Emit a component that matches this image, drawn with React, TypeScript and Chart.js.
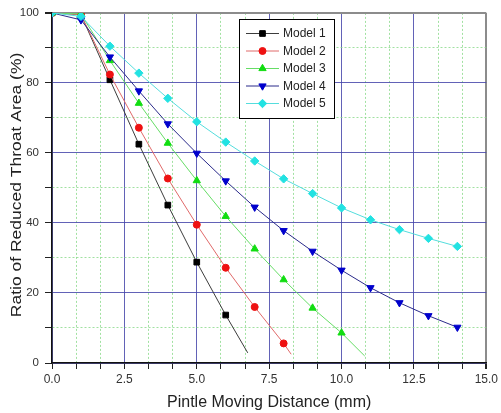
import React, { useEffect, useRef } from 'react';
import { Chart, registerables } from 'chart.js';
import { drawPoint } from 'chart.js/helpers';

Chart.register(...registerables);

// ---- data ----
const distance = [0, 1, 2, 3, 4, 5, 6, 7, 8, 9, 10, 11, 12, 13, 14];
const model1 = [100, 99.5, 80.9, 62.5, 45.1, 28.8, 13.7];
const model2 = [100, 99.5, 82.4, 67.2, 52.7, 39.5, 27.2, 16.0, 5.6];
const model3 = [100, 99.7, 86.4, 74.2, 62.8, 52.1, 41.9, 32.6, 23.8, 15.7, 8.6];
const model4 = [100, 98.0, 87.4, 77.7, 68.3, 59.9, 52.0, 44.5, 37.8, 31.9, 26.5, 21.5, 17.2, 13.5, 10.2];
const model5 = [100, 99.0, 90.5, 82.8, 75.6, 68.9, 63.1, 57.7, 52.6, 48.4, 44.3, 40.9, 38.1, 35.6, 33.3];
// where the fitted lines end (beyond the last measured point)
const model1LineEnd = [6.76, 2.9];
const model2LineEnd = [8.26, 2.5];
const model3LineEnd = [10.8, 2.0];

const seriesNames = ['Model 1', 'Model 2', 'Model 3', 'Model 4', 'Model 5'];
const xMajorTicks = [0, 2.5, 5, 7.5, 10, 12.5, 15];
const yMajorTicks = [0, 20, 40, 60, 80, 100];
const xTitle = 'Pintle Moving Distance (mm)';
const yTitle = 'Ratio of Reduced Throat Area (%)';

const FONT = "'Liberation Sans', Arial, Helvetica, sans-serif";

function buildMinor(major: number[], parts: number): number[] {
  const out: number[] = [];
  for (let i = 0; i < major.length; i++) {
    out.push(major[i]);
    if (i < major.length - 1) {
      for (let k = 1; k < parts; k++) out.push(major[i] + ((major[i + 1] - major[i]) * k) / parts);
    }
  }
  return out;
}
const xAllTicks = buildMinor(xMajorTicks, 3);
const yAllTicks = buildMinor(yMajorTicks, 2);

const isIn = (v: number, arr: number[]) => arr.some((a) => Math.abs(a - v) < 1e-6);

function makeData(vals: number[], end?: number[]) {
  const pts = vals.map((v, i) => ({ x: distance[i], y: v }));
  if (end) pts.push({ x: end[0], y: end[1] });
  return pts;
}

const styles = [
  { line: '#3c3c3c', fill: '#000000', pointStyle: 'rect', rotation: 0, radius: 4 },
  { line: '#e06a6a', fill: '#ee1111', pointStyle: 'circle', rotation: 0, radius: 3.5 },
  { line: '#66dd66', fill: '#11dd11', pointStyle: 'triangle', rotation: 0, radius: 4.2 },
  { line: '#2a2a8a', fill: '#0000cc', pointStyle: 'triangle', rotation: 180, radius: 4.2 },
  { line: '#55dddd', fill: '#22e2e2', pointStyle: 'rectRot', rotation: 0, radius: 4.2 },
];

const legendPlugin = {
  id: 'boxLegend',
  afterDatasetsDraw(chart: any) {
    const ctx = chart.ctx;
    ctx.save();
    ctx.fillStyle = '#ffffff';
    ctx.fillRect(239, 19, 95, 99);
    ctx.strokeStyle = '#000000';
    ctx.lineWidth = 1;
    ctx.strokeRect(239.5, 19.5, 95, 99);
    seriesNames.forEach((name, i) => {
      const s = styles[i];
      const y = 33.5 + i * 17.5;
      ctx.strokeStyle = s.line;
      ctx.lineWidth = 1;
      ctx.beginPath();
      ctx.moveTo(246, y);
      ctx.lineTo(279, y);
      ctx.stroke();
      ctx.fillStyle = s.fill;
      ctx.strokeStyle = s.fill;
      drawPoint(ctx, { pointStyle: s.pointStyle, rotation: s.rotation, radius: s.radius, borderWidth: 1 }, 262.5, y);
      ctx.fillStyle = '#222222';
      ctx.font = `12px ${FONT}`;
      ctx.textBaseline = 'middle';
      ctx.textAlign = 'left';
      ctx.fillText(name, 283, y + 0.5);
    });
    ctx.restore();
  },
};

const titlePlugin = {
  id: 'axisTitles',
  afterDraw(chart: any) {
    const ctx = chart.ctx;
    const area = chart.chartArea;
    ctx.save();
    ctx.fillStyle = '#222222';
    ctx.textAlign = 'center';
    ctx.textBaseline = 'middle';
    // x title
    ctx.save();
    ctx.translate((area.left + area.right) / 2, 402);
    ctx.scale(0.94, 1);
    ctx.font = `17px ${FONT}`;
    ctx.fillText(xTitle, 0, 0);
    ctx.restore();
    // y title
    ctx.save();
    ctx.translate(17, (area.top + area.bottom) / 2 - 3);
    ctx.scale(0.86, 1);
    ctx.rotate(-Math.PI / 2);
    ctx.font = `17.5px ${FONT}`;
    ctx.fillText(yTitle, 0, 0);
    ctx.restore();
    ctx.restore();
  },
};

export default function App() {
  const ref = useRef<HTMLCanvasElement | null>(null);
  useEffect(() => {
    if (!ref.current) return;
    const series = [
      makeData(model1, model1LineEnd),
      makeData(model2, model2LineEnd),
      makeData(model3, model3LineEnd),
      makeData(model4),
      makeData(model5),
    ];
    const counts = [model1.length, model2.length, model3.length, model4.length, model5.length];
    const chart = new Chart(ref.current, {
      type: 'scatter',
      data: {
        datasets: series.map((d, i) => ({
          label: seriesNames[i],
          data: d,
          showLine: true,
          borderColor: styles[i].line,
          borderWidth: 1,
          backgroundColor: styles[i].fill,
          pointBackgroundColor: styles[i].fill,
          pointBorderColor: styles[i].fill,
          pointBorderWidth: 1,
          pointStyle: styles[i].pointStyle as any,
          pointRotation: styles[i].rotation,
          pointRadius: (c: any) => (c.dataIndex < counts[i] ? styles[i].radius : 0),
          tension: 0,
          order: 4 - i,
        })),
      },
      options: {
        responsive: false,
        animation: false,
        layout: { padding: { top: 11, right: 11, left: 0, bottom: 0 } },
        plugins: { legend: { display: false }, tooltip: { enabled: false } },
        scales: {
          x: {
            type: 'linear',
            min: 0,
            max: 15,
            afterBuildTicks: (scale: any) => {
              scale.ticks = xAllTicks.map((v) => ({ value: v }));
            },
            afterFit: (scale: any) => {
              scale.height = 50;
            },
            ticks: {
              autoSkip: false,
              maxRotation: 0,
              padding: 3,
              color: '#333333',
              font: { family: FONT, size: 12 },
              callback: (v: any) => (isIn(Number(v), xMajorTicks) ? Number(v).toFixed(1) : ''),
            },
            grid: {
              color: (c: any) => {
                const v = c.tick ? c.tick.value : 0;
                if (Math.abs(v - 15) < 1e-6) return '#8c8c8c';
                return isIn(v, xMajorTicks) ? 'rgba(70,70,170,0.85)' : 'rgba(130,215,130,0.75)';
              },
              lineWidth: (c: any) => {
                const v = c.tick ? c.tick.value : 0;
                return Math.abs(v - 15) < 1e-6 ? 2 : 1;
              },
              tickColor: '#222222',
              tickLength: 6,
            },
            border: {
              color: '#111111',
              width: 1.5,
              dash: (c: any) => {
                const v = c && c.tick ? c.tick.value : 0;
                return isIn(v, xMajorTicks) ? [] : [2, 2];
              },
            },
            title: { display: false },
          },
          y: {
            type: 'linear',
            min: 0,
            max: 100,
            afterBuildTicks: (scale: any) => {
              scale.ticks = yAllTicks.map((v) => ({ value: v }));
            },
            afterFit: (scale: any) => {
              scale.width = 52;
            },
            ticks: {
              autoSkip: false,
              padding: 6,
              color: '#333333',
              font: { family: FONT, size: 11.5 },
              callback: (v: any) => (isIn(Number(v), yMajorTicks) ? String(v) : ''),
            },
            grid: {
              color: (c: any) => {
                const v = c.tick ? c.tick.value : 0;
                if (Math.abs(v - 100) < 1e-6) return '#8c8c8c';
                return isIn(v, yMajorTicks) ? 'rgba(70,70,170,0.85)' : 'rgba(130,215,130,0.75)';
              },
              lineWidth: (c: any) => {
                const v = c.tick ? c.tick.value : 0;
                return Math.abs(v - 100) < 1e-6 ? 2 : 1;
              },
              tickColor: '#222222',
              tickLength: 7,
            },
            border: {
              color: '#111111',
              width: 1.5,
              dash: (c: any) => {
                const v = c && c.tick ? c.tick.value : 0;
                return isIn(v, yMajorTicks) ? [] : [2, 2];
              },
            },
            title: { display: false },
          },
        },
      },
      plugins: [legendPlugin, titlePlugin],
    } as any);
    return () => chart.destroy();
  }, []);
  return (
    <div style={{ position: 'fixed', left: 0, top: 0, width: 501, height: 413, background: '#ffffff' }}>
      <canvas ref={ref} width={501} height={413} style={{ width: 501, height: 413, display: 'block' }} />
    </div>
  );
}
